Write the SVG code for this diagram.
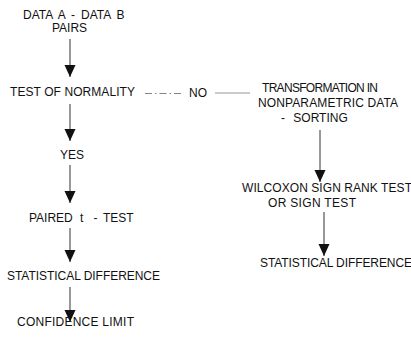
<svg xmlns="http://www.w3.org/2000/svg" width="411" height="337" viewBox="0 0 411 337">
<defs>
<style>
text{font-family:"Liberation Sans",Arial,sans-serif;font-size:12px;fill:#111;}
.c{stroke:#333;stroke-width:1;fill:none;}
.dd{stroke:#777;stroke-width:0.9;fill:none;stroke-dasharray:7,3,1.5,3;}
.th{stroke:#888;stroke-width:0.9;fill:none;}
</style>
<marker id="ah" markerUnits="userSpaceOnUse" markerWidth="12" markerHeight="12" refX="12" refY="6" orient="auto">
<path d="M0,0.5 L12,6 L0,11.5 z" fill="#111"/>
</marker>
</defs>
<rect width="411" height="337" fill="#fff"/>
<g id="n-data"><text x="23" y="19" word-spacing="2.6">DATA A - DATA B</text><text x="52" y="32" font-size="11">PAIRS</text></g>
<g id="n-normality"><text x="10" y="96" textLength="125" lengthAdjust="spacing">TEST OF NORMALITY</text></g>
<g id="n-no"><text x="189" y="97">NO</text></g>
<g id="n-yes"><text x="60" y="159">YES</text></g>
<g id="n-paired"><text x="29" y="222" font-size="11.5">PAIRED</text><text x="80" y="222">t</text><text x="93.5" y="222">-</text><text x="103" y="222" font-size="11.5">TEST</text></g>
<g id="n-stat1"><text x="7" y="280" textLength="153" lengthAdjust="spacing">STATISTICAL DIFFERENCE</text></g>
<g id="n-conf"><text x="17" y="326" textLength="117" lengthAdjust="spacing">CONFIDENCE LIMIT</text></g>
<g id="n-transform"><text x="262" y="92" textLength="116" lengthAdjust="spacing">TRANSFORMATION IN</text><text x="258" y="107" textLength="140" lengthAdjust="spacing">NONPARAMETRIC DATA</text><text x="281" y="122" word-spacing="5">- SORTING</text></g>
<g id="n-wilcoxon"><text x="242" y="192" textLength="170" lengthAdjust="spacing">WILCOXON SIGN RANK TEST</text><text x="268" y="207" textLength="88" lengthAdjust="spacing">OR SIGN TEST</text></g>
<g id="n-stat2"><text x="260" y="267" textLength="152" lengthAdjust="spacing">STATISTICAL DIFFERENCE</text></g>
<g id="connectors">
<line class="c" x1="70" y1="39" x2="70" y2="77" marker-end="url(#ah)"/>
<line class="c" x1="70" y1="104" x2="70" y2="141" marker-end="url(#ah)"/>
<line class="c" x1="70" y1="165" x2="70" y2="203" marker-end="url(#ah)"/>
<line class="c" x1="70" y1="228" x2="70" y2="262" marker-end="url(#ah)"/>
<line class="c" x1="70" y1="287" x2="70" y2="322" marker-end="url(#ah)"/>
<line class="dd" x1="145" y1="93.5" x2="183" y2="93.5"/>
<line class="th" x1="215" y1="93" x2="250" y2="93"/>
<line class="c" x1="320" y1="130" x2="320" y2="182" marker-end="url(#ah)"/>
<line class="c" x1="324" y1="212" x2="324" y2="256" marker-end="url(#ah)"/>
</g>
</svg>
